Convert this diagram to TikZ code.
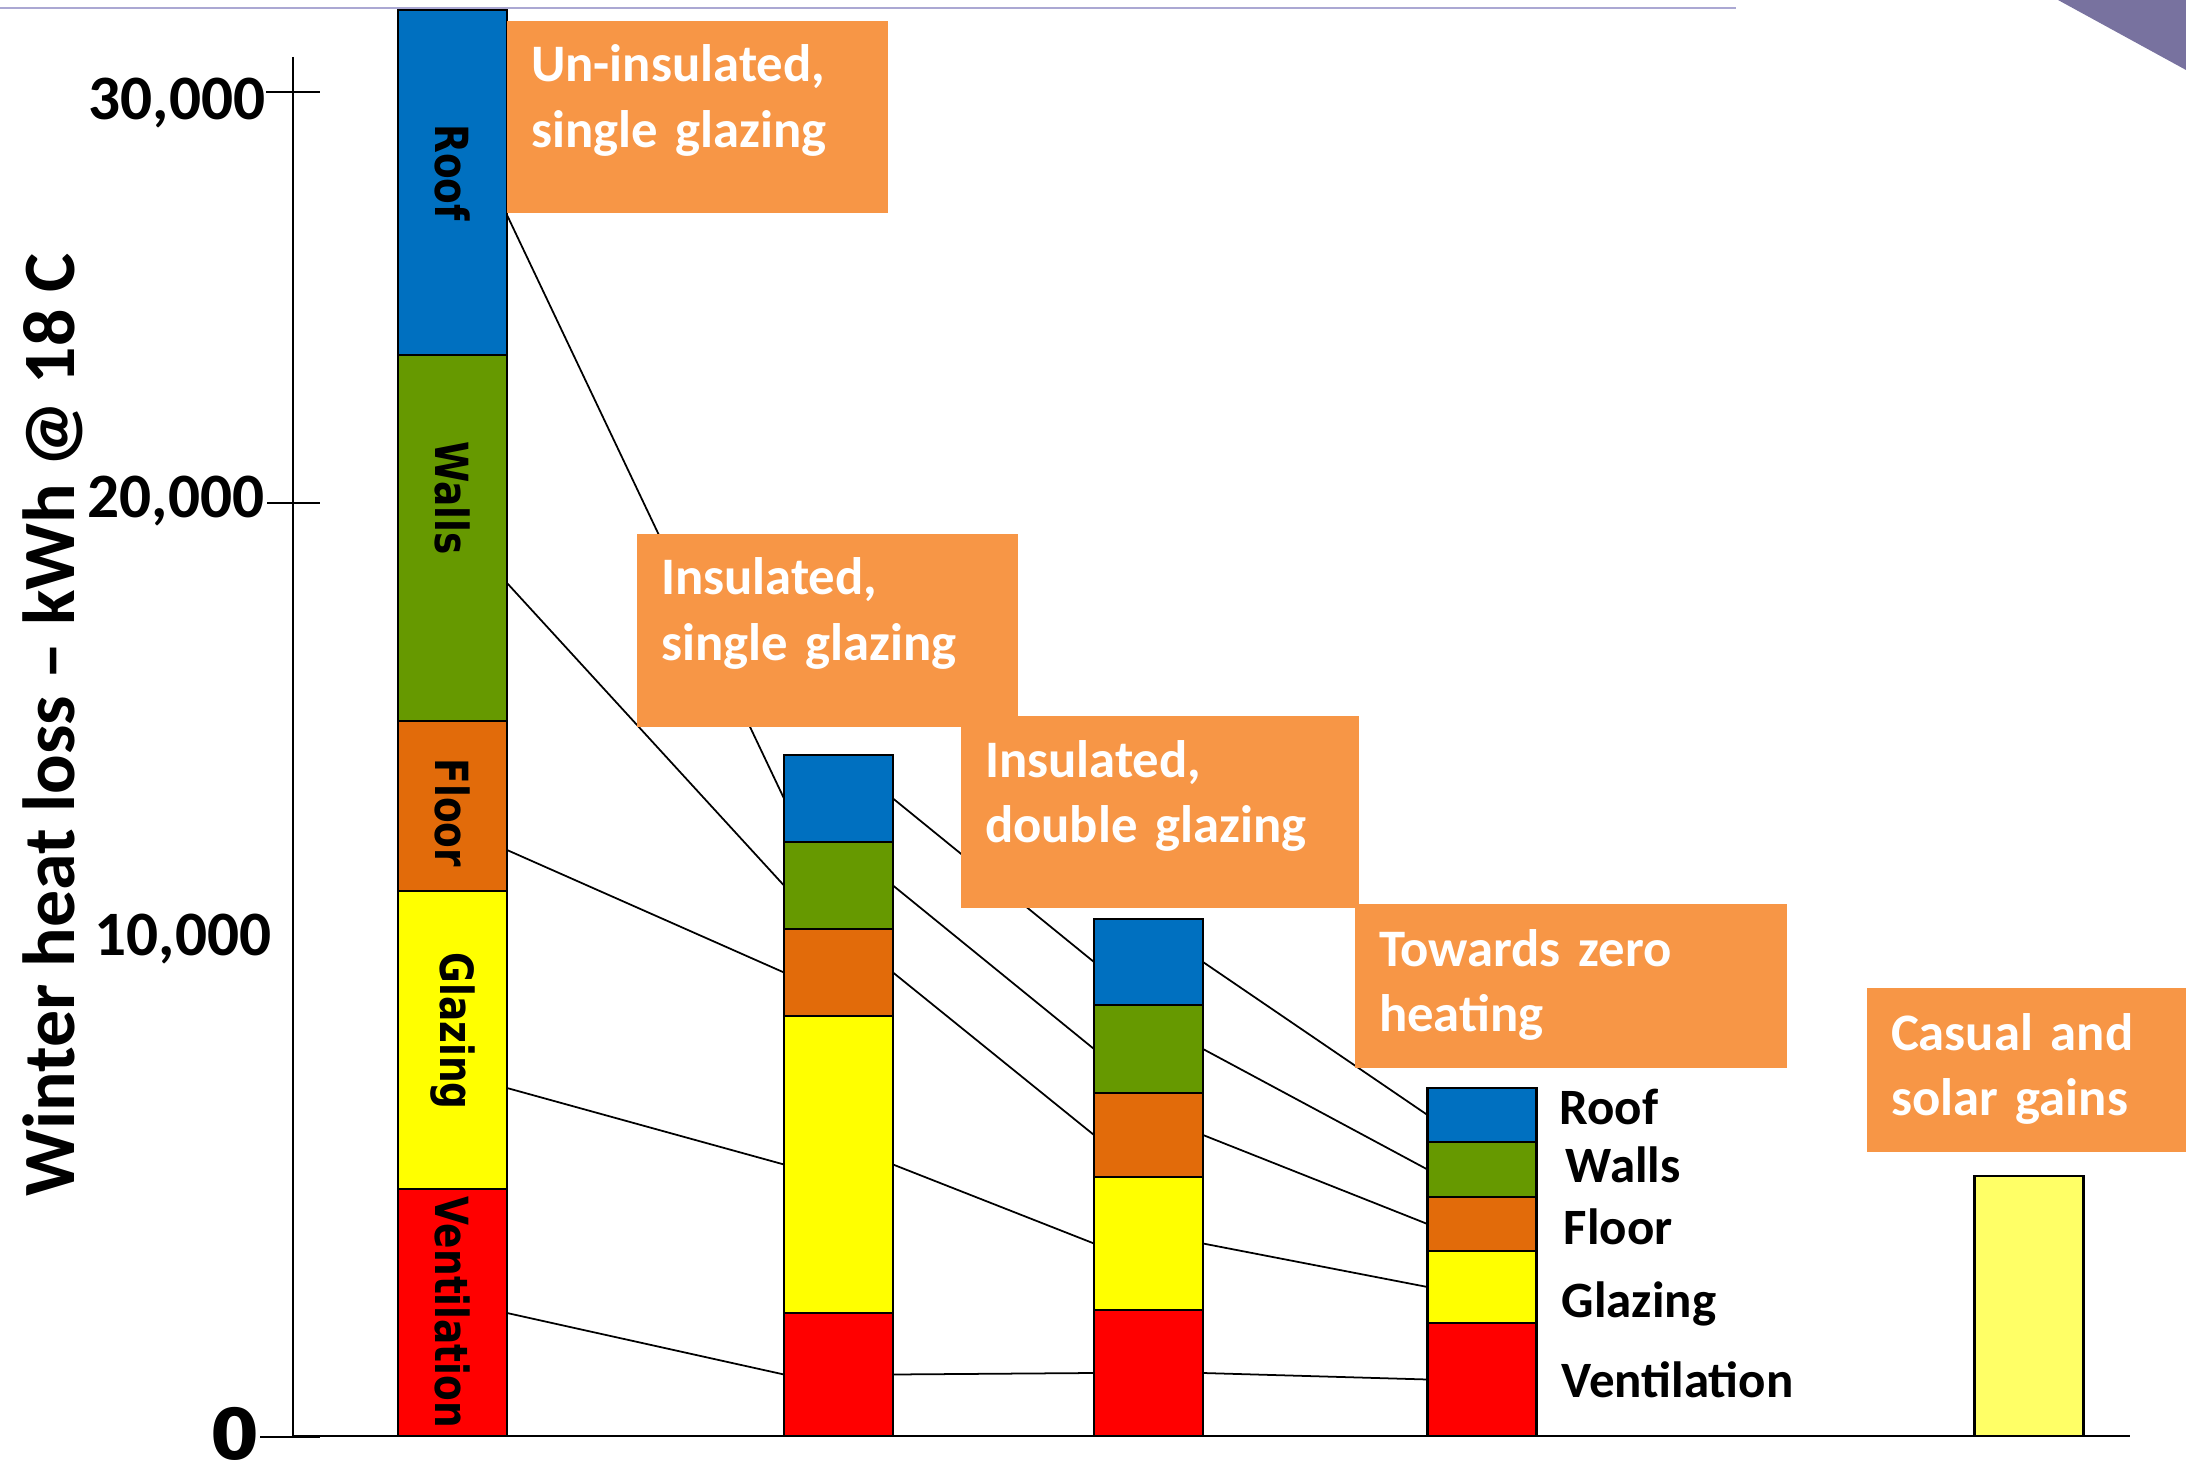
\documentclass[tikz,border=0pt]{standalone}
\usepackage{fontspec}
\setmainfont{Carlito}
\newfontfamily\dejavu{DejaVu Sans}
\usepackage{tikz}
\usetikzlibrary{positioning}

\definecolor{roofblue}{HTML}{0070C0}
\definecolor{wallgreen}{HTML}{669900}
\definecolor{floororange}{HTML}{E26B0A}
\definecolor{glazeyellow}{HTML}{FFFF00}
\definecolor{ventred}{HTML}{FF0000}
\definecolor{gainyellow}{HTML}{FFFF66}
\definecolor{caseorange}{HTML}{F79646}
\definecolor{rulelilac}{HTML}{ABA8D3}
\definecolor{cornerpurple}{HTML}{78729F}

\tikzset{
  seg/.style={draw=black, line width=0.8pt, minimum width=10.9mm, inner sep=0pt, outer sep=0pt},
  link/.style={line width=0.5pt},
  casebox/.style={fill=caseorange, text=white, anchor=north west, align=left, inner xsep=2.4mm, inner ysep=0pt, outer sep=0pt, text height=6.1mm, font=\bfseries\fontsize{15}{18.5}\selectfont},
  barlabel/.style={rotate=-90, xscale=0.82, inner sep=0pt, font=\dejavu\bfseries\fontsize{13}{15}\selectfont},
  keylabel/.style={anchor=base west, inner sep=0pt, font=\bfseries\fontsize{14.5}{17}\selectfont},
  ticklabel/.style={anchor=base east, inner sep=0pt, font=\bfseries\fontsize{18}{21}\selectfont}
}

\begin{document}
\begin{tikzpicture}[x=1mm, y=-1mm]
\useasboundingbox (0,0) rectangle (218.6,146.2);

% Slide decoration: lilac rule on top and the purple corner
\draw[rulelilac, line width=0.6pt] (0,0.8) -- (173.6,0.8);
\fill[cornerpurple] (205.8,0) -- (218.6,0) -- (218.6,7.0) -- cycle;

% Axis, ticks and the axis title
\node[rotate=90, inner sep=0pt, font=\bfseries\fontsize{21}{25}\selectfont] (ytitle) at (5.3,72.5) {Winter heat loss -- kWh @ 18 C};
\draw[line width=0.6pt] (29.3,5.7) -- (29.3,143.6) -- (213.0,143.6);
\draw[line width=0.6pt] (26.6,9.2) -- (32.0,9.2);
\draw[line width=0.6pt] (26.7,50.3) -- (32.0,50.3);
\draw[line width=0.6pt] (26.0,143.7) -- (32.0,143.7);
\node[ticklabel] (t30) at (26.6,12.0) {30,000};
\node[ticklabel] (t20) at (26.5,51.8) {20,000};
\node[ticklabel] (t10) at (27.2,95.5) {10,000};
\node[anchor=east, inner sep=0pt, font=\dejavu\bfseries\fontsize{20}{24}\selectfont] (t0) at (26.0,143.4) {0};

% Points where the links leave the first bar
\coordinate (s1-roof) at (50.7,21.5);
\coordinate (s1-walls) at (50.7,58.3);
\coordinate (s1-floor) at (50.7,85.0);
\coordinate (s1-glazing) at (50.7,108.8);
\coordinate (s1-vent) at (50.7,131.3);

% Bar 1: un-insulated, single glazing
\node[seg, fill=roofblue, minimum height=34.5mm, anchor=north] (b1-roof) at (45.25,1.0) {};
\node[seg, fill=wallgreen, minimum height=36.6mm, below=0mm of b1-roof] (b1-walls) {};
\node[seg, fill=floororange, minimum height=17.0mm, below=0mm of b1-walls] (b1-floor) {};
\node[seg, fill=glazeyellow, minimum height=29.8mm, below=0mm of b1-floor] (b1-glazing) {};
\node[seg, fill=ventred, minimum height=24.7mm, below=0mm of b1-glazing] (b1-vent) {};

% Bar 2: insulated, single glazing
\node[seg, fill=roofblue, minimum height=8.7mm, anchor=north] (b2-roof) at (83.85,75.5) {};
\node[seg, fill=wallgreen, minimum height=8.7mm, below=0mm of b2-roof] (b2-walls) {};
\node[seg, fill=floororange, minimum height=8.7mm, below=0mm of b2-walls] (b2-floor) {};
\node[seg, fill=glazeyellow, minimum height=29.7mm, below=0mm of b2-floor] (b2-glazing) {};
\node[seg, fill=ventred, minimum height=12.3mm, below=0mm of b2-glazing] (b2-vent) {};

% Bar 3: insulated, double glazing
\node[seg, fill=roofblue, minimum height=8.6mm, anchor=north] (b3-roof) at (114.85,91.9) {};
\node[seg, fill=wallgreen, minimum height=8.8mm, below=0mm of b3-roof] (b3-walls) {};
\node[seg, fill=floororange, minimum height=8.4mm, below=0mm of b3-walls] (b3-floor) {};
\node[seg, fill=glazeyellow, minimum height=13.3mm, below=0mm of b3-floor] (b3-glazing) {};
\node[seg, fill=ventred, minimum height=12.6mm, below=0mm of b3-glazing] (b3-vent) {};

% Bar 4: towards zero heating
\node[seg, fill=roofblue, minimum height=5.4mm, anchor=north] (b4-roof) at (148.2,108.8) {};
\node[seg, fill=wallgreen, minimum height=5.5mm, below=0mm of b4-roof] (b4-walls) {};
\node[seg, fill=floororange, minimum height=5.4mm, below=0mm of b4-walls] (b4-floor) {};
\node[seg, fill=glazeyellow, minimum height=7.2mm, below=0mm of b4-floor] (b4-glazing) {};
\node[seg, fill=ventred, minimum height=11.3mm, below=0mm of b4-glazing] (b4-vent) {};

% Bar 5: casual and solar gains
\node[seg, fill=gainyellow, minimum height=26.0mm, anchor=north] (b5) at (202.9,117.6) {};

% Links between the matching parts of the bars
\draw[link] (s1-roof) -- (b2-roof.west);
\draw[link] (s1-walls) -- (b2-walls.west);
\draw[link] (s1-floor) -- (b2-floor.west);
\draw[link] (s1-glazing) -- (b2-glazing.west);
\draw[link] (s1-vent) -- (b2-vent.west);
\draw[link] (b2-roof.east) -- (b3-roof.west);
\draw[link] (b2-walls.east) -- (b3-walls.west);
\draw[link] (b2-floor.east) -- (b3-floor.west);
\draw[link] (b2-glazing.east) -- (b3-glazing.west);
\draw[link] (b2-vent.east) -- (b3-vent.west);
\draw[link] (b3-roof.east) -- (b4-roof.west);
\draw[link] (b3-walls.east) -- (b4-walls.west);
\draw[link] (b3-floor.east) -- (b4-floor.west);
\draw[link] (b3-glazing.east) -- (b4-glazing.west);
\draw[link] (b3-vent.east) -- (b4-vent.west);

% Orange captions, drawn over bars and links
\node[casebox, text width=33.3mm, text depth=13.1mm] (case1) at (50.7,2.1) {Un-insulated,\\single glazing};
\node[casebox, text width=33.3mm, text depth=13.2mm] (case2) at (63.7,53.4) {Insulated,\\single glazing};
\node[casebox, text width=35.0mm, text depth=13.1mm] (case3) at (96.1,71.6) {Insulated,\\double glazing};
\node[casebox, text width=38.4mm, text depth=10.2mm, text height=6.2mm] (case4) at (135.5,90.4) {Towards zero\\heating};
\node[casebox, text width=30.2mm, text depth=10.2mm, text height=6.2mm] (case5) at (186.7,98.8) {Casual and\\solar gains};

% Names of the parts, inside bar 1
\node[barlabel] (l-roof) at ([yshift=1mm]b1-roof) {Roof};
\node[barlabel] (l-walls) at ([yshift=4mm]b1-walls) {Walls};
\node[barlabel] (l-floor) at ([yshift=-0.7mm]b1-floor) {Floor};
\node[barlabel] (l-glazing) at ([yshift=0.9mm]b1-glazing) {Glazing};
\node[barlabel] (l-vent) at (b1-vent) {Ventilation};

% Names of the parts, beside bar 4
\node[keylabel] (k-roof) at (155.9,112.4) {Roof};
\node[keylabel] (k-walls) at (156.5,118.2) {Walls};
\node[keylabel] (k-floor) at (156.3,124.4) {Floor};
\node[keylabel] (k-glazing) at (156.1,131.7) {Glazing};
\node[keylabel] (k-vent) at (156.1,139.7) {Ventilation};

\end{tikzpicture}
\end{document}
